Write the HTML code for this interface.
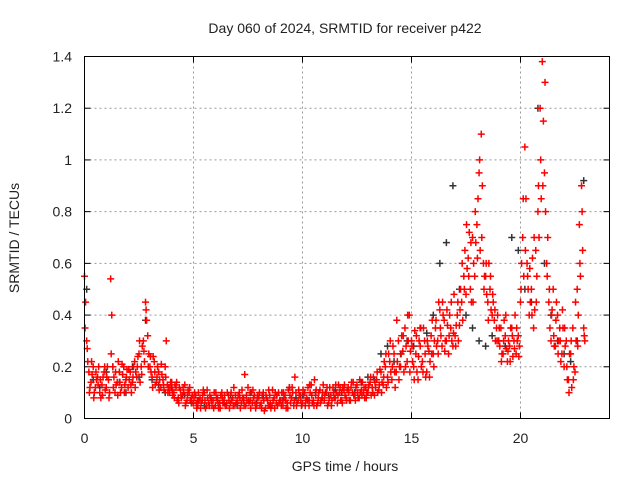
<!DOCTYPE html>
<html><head><meta charset="utf-8"><style>
body{margin:0;background:#fff;}
svg text{font-family:"Liberation Sans",sans-serif;font-size:14px;fill:#222;}
</style></head><body>
<svg width="640" height="480" xmlns="http://www.w3.org/2000/svg">
<g id="grid"></g>
<g id="ticks"></g>
<g id="pts"></g>
<rect x="84.5" y="56.5" width="525" height="362" fill="none" stroke="#000"/>
<text x="345" y="33" text-anchor="middle">Day 060 of 2024, SRMTID for receiver p422</text>
<text x="345" y="471" text-anchor="middle">GPS time / hours</text>
<text transform="translate(19,238) rotate(-90)" text-anchor="middle">SRMTID / TECUs</text>
</svg>
<script>
const xTicks=[0,5,10,15,20];
const yTicks=[0,0.2,0.4,0.6,0.8,1,1.2,1.4];
const yLabels=["0","0.2","0.4","0.6","0.8","1","1.2","1.4"];
const redA=[0.55,0.3,0.18,0.14,0.2,0.12,0.16,0.1,0.13,0.18,
0.12,0.15,0.54,0.2,0.1,0.14,0.18,0.12,0.2,0.15,
0.12,0.18,0.14,0.22,0.16,0.25,0.2,0.3,0.45,0.32,
0.2,0.16,0.22,0.14,0.18,0.12,0.15,0.2,0.13,0.1,
0.14,0.1,0.12,0.08,0.11,0.09,0.13,0.07,0.1,0.08,
0.06,0.09,0.05,0.08,0.07,0.1,0.05,0.06,0.08,0.07,
0.05,0.08,0.06,0.1,0.07,0.05,0.09,0.06,0.08,0.05,
0.07,0.1,0.06,0.08,0.05,0.12,0.07,0.06,0.09,0.05,
0.08,0.06,0.1,0.04,0.07,0.09,0.05,0.08,0.06,0.1,
0.07,0.05,0.09,0.06,0.12,0.08,0.05,0.1,0.07,0.09,
0.06,0.1,0.08,0.05,0.13,0.07,0.09,0.06,0.11,0.08,
0.07,0.1,0.06,0.09,0.12,0.08,0.06,0.1,0.07,0.11,
0.08,0.12,0.07,0.1,0.09,0.13,0.08,0.11,0.1,0.12,
0.1,0.14,0.12,0.09,0.15,0.11,0.18,0.13,0.2,0.16,
0.22,0.15,0.25,0.18,0.3,0.2,0.26,0.35,0.22,0.4,
0.3,0.2,0.25,0.15,0.28,0.22,0.3,0.18,0.26,0.32,
0.25,0.35,0.3,0.42,0.28,0.38,0.3,0.25,0.35,0.28,
0.32,0.4,0.36,0.45,0.55,0.48,0.62,0.5,0.7,0.55,
0.75,0.95,1.1,0.6,0.55,0.45,0.5,0.4,0.38,0.35,
0.3,0.35,0.25,0.32,0.22,0.28,0.35,0.3,0.25,0.32,
0.45,0.7,1.05,0.6,0.4,0.5,0.35,0.65,0.8,1.2,
1.38,0.95,0.6,0.45,0.3,0.5,0.28,0.4,0.35,0.25,
0.2,0.3,0.15,0.25,0.35,0.18,0.5,0.75,0.9,0.35];
const redB=[0.45,0.22,0.12,0.17,0.1,0.15,0.2,0.08,0.16,0.11,
0.2,0.1,0.4,0.16,0.13,0.22,0.1,0.17,0.13,0.19,
0.15,0.1,0.2,0.18,0.24,0.14,0.28,0.22,0.38,0.25,
0.18,0.24,0.13,0.2,0.15,0.17,0.11,0.3,0.12,0.14,
0.09,0.13,0.07,0.12,0.08,0.1,0.06,0.11,0.07,0.09,
0.1,0.04,0.07,0.06,0.11,0.04,0.08,0.09,0.05,0.1,
0.08,0.04,0.09,0.06,0.05,0.1,0.04,0.07,0.12,0.06,
0.09,0.04,0.08,0.17,0.07,0.06,0.1,0.08,0.04,0.09,
0.05,0.09,0.03,0.08,0.11,0.04,0.07,0.1,0.05,0.07,
0.1,0.08,0.04,0.11,0.06,0.1,0.16,0.06,0.09,0.05,
0.09,0.07,0.12,0.1,0.06,0.15,0.05,0.1,0.07,0.13,
0.1,0.05,0.12,0.07,0.08,0.1,0.13,0.07,0.12,0.09,
0.11,0.07,0.14,0.09,0.12,0.08,0.1,0.14,0.08,0.1,
0.13,0.09,0.16,0.12,0.1,0.19,0.14,0.22,0.12,0.25,
0.18,0.28,0.12,0.22,0.2,0.32,0.18,0.28,0.3,0.26,
0.22,0.34,0.18,0.3,0.2,0.35,0.16,0.28,0.22,0.38,
0.3,0.28,0.45,0.32,0.4,0.3,0.36,0.4,0.3,0.48,
0.36,0.3,0.5,0.38,0.65,0.58,0.72,0.45,0.6,0.68,
0.85,0.65,0.9,0.55,0.48,0.6,0.42,0.45,0.3,0.4,
0.28,0.25,0.38,0.27,0.3,0.35,0.24,0.4,0.3,0.28,
0.6,0.55,0.85,0.5,0.45,0.62,0.42,0.55,0.7,0.85,
1.15,0.8,0.7,0.35,0.42,0.28,0.45,0.3,0.22,0.35,
0.28,0.15,0.25,0.12,0.2,0.3,0.4,0.55,0.65,0.3];
const redC=[0.35,0.27,0.1,0.22,0.08,0.18,0.13,0.15,0.09,0.2,
0.16,0.08,0.25,0.12,0.18,0.09,0.14,0.21,0.1,0.16,
0.19,0.13,0.16,0.12,0.2,0.3,0.17,0.26,0.42,0.2,
0.24,0.12,0.18,0.16,0.11,0.21,0.13,0.16,0.1,0.12,
0.11,0.08,0.14,0.06,0.09,0.12,0.05,0.09,0.12,0.06,
0.08,0.06,0.1,0.04,0.09,0.07,0.11,0.05,0.07,0.04,
0.1,0.06,0.04,0.08,0.09,0.06,0.07,0.1,0.05,0.09,
0.06,0.08,0.11,0.05,0.09,0.07,0.04,0.11,0.06,0.08,
0.1,0.04,0.07,0.09,0.05,0.06,0.11,0.04,0.09,0.06,
0.05,0.1,0.07,0.04,0.09,0.12,0.07,0.05,0.11,0.07,
0.11,0.05,0.07,0.13,0.09,0.05,0.11,0.08,0.06,0.1,
0.09,0.12,0.08,0.05,0.1,0.13,0.09,0.12,0.06,0.13,
0.07,0.1,0.12,0.14,0.07,0.1,0.15,0.09,0.12,0.08,
0.12,0.16,0.1,0.14,0.18,0.13,0.1,0.16,0.25,0.14,
0.3,0.2,0.18,0.38,0.15,0.25,0.32,0.2,0.4,0.18,
0.28,0.15,0.32,0.24,0.35,0.18,0.25,0.3,0.16,0.25,
0.2,0.38,0.25,0.35,0.45,0.26,0.42,0.32,0.45,0.33,
0.28,0.45,0.42,0.6,0.5,0.75,0.55,0.68,0.45,0.8,
0.62,1.0,0.7,0.5,0.6,0.38,0.55,0.48,0.42,0.3,
0.35,0.22,0.3,0.4,0.26,0.22,0.32,0.27,0.35,0.24,
0.5,0.85,0.65,0.55,0.58,0.4,0.7,0.45,0.9,1.0,
0.9,1.3,0.55,0.5,0.4,0.32,0.38,0.25,0.3,0.42,
0.35,0.2,0.1,0.3,0.15,0.45,0.28,0.6,0.8,0.32];
const gray=[0.5,0.15,0.12,0.18,0.2,0.14,0.1,0.2,0.16,0.38,0.15,0.13,0.1,0.12,0.08,0.09,0.06,0.07,0.05,0.08,0.07,0.06,0.09,0.05,0.07,0.1,0.06,0.08,0.05,0.09,0.07,0.12,0.08,0.09,0.07,0.1,0.08,0.09,0.11,0.1,0.12,0.1,0.14,0.16,0.15,0.25,0.28,0.22,0.25,0.3,0.28,0.35,0.33,0.4,0.6,0.68,0.9,0.5,0.4,0.35,0.3,0.28,0.32,0.3,0.28,0.7,0.65,0.5,0.45,1.2,0.6,0.4,0.3,0.25,0.22,0.3,0.92];
const NS="http://www.w3.org/2000/svg";
const X=t=>84.5+t*21.8;
const Y=v=>418.5-v*(362/1.4);
const grid=document.getElementById('grid'),tk=document.getElementById('ticks'),pts=document.getElementById('pts');
function mk(tag,attrs,parent){const e=document.createElementNS(NS,tag);for(const k in attrs)e.setAttribute(k,attrs[k]);parent.appendChild(e);return e;}
xTicks.forEach(t=>{
  const x=X(t);
  if(t>0){const g=mk('line',{x1:x,x2:x,y1:56.5,y2:418.5,stroke:'#999','stroke-dasharray':'2,3'},grid);
  
  }
  mk('line',{x1:x,x2:x,y1:418.5,y2:412.5,stroke:'#000'},tk);
  mk('line',{x1:x,x2:x,y1:56.5,y2:62.5,stroke:'#000'},tk);
  const l=mk('text',{x:x,y:443,'text-anchor':'middle'},tk);l.textContent=t;
  
  
});
yTicks.forEach((v,i)=>{
  const y=Y(v);
  if(v>0&&v<1.4){const g=mk('line',{x1:84.5,x2:609.5,y1:y,y2:y,stroke:'#999','stroke-dasharray':'2,3'},grid);
  
  }
  mk('line',{x1:84.5,x2:90.5,y1:y,y2:y,stroke:'#000'},tk);
  mk('line',{x1:609.5,x2:603.5,y1:y,y2:y,stroke:'#000'},tk);
  const l=mk('text',{x:72,y:y+5,'text-anchor':'end'},tk);l.textContent=yLabels[i];
  
  
});
function plus(t,v,c){const x=X(t),y=Y(v);
  const p=mk('path',{d:`M${x-3.5},${y}H${x+3.5}M${x},${y-3.5}V${y+3.5}`,stroke:c,'stroke-width':1.5,fill:'none'},pts);
  
  }
gray.forEach((v,i)=>plus(i*0.3+0.1,v,'#333'));
redA.forEach((v,i)=>plus(i*0.1,v,'#f00'));
redB.forEach((v,i)=>plus(i*0.1+0.05,v,'#f00'));
redC.forEach((v,i)=>plus(i*0.1+0.025,v,'#f00'));
</script>
</body></html>
